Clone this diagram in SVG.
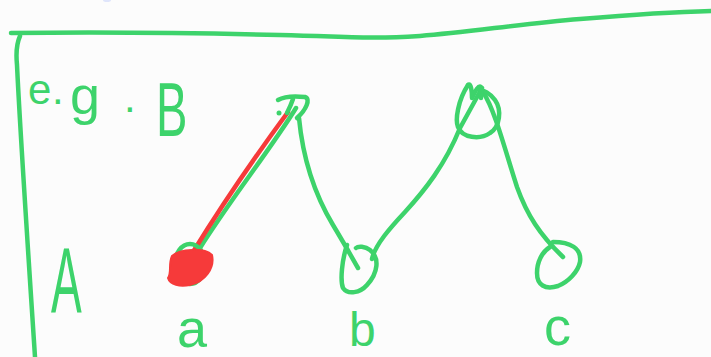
<svg xmlns="http://www.w3.org/2000/svg" width="711" height="357" viewBox="0 0 711 357">
<style>
.g{fill:none;stroke:#3dd36b;stroke-width:4.5;stroke-linecap:round;stroke-linejoin:round}
.r{fill:none;stroke:#f63a3a;stroke-width:4.5;stroke-linecap:round;stroke-linejoin:round}
.t{fill:#3dd36b;font-family:"Liberation Sans",Arial,sans-serif}
</style>
<rect width="711" height="357" fill="#fcfcfc"/>
<ellipse cx="107" cy="0" rx="4" ry="2" fill="#dfe5fb"/>
<g id="frame">
<path class="g" d="M11,33 C100,32 200,33 280,35 S370,39 420,36 C470,32 520,24 580,19 S670,12 711,11"/>
<path class="g" d="M20,36 C16,45 16,55 17,65 C20,130 28,250 35,357"/>
</g>
<g id="labels">
<text class="t" font-size="42"><tspan x="28" y="104">e</tspan><tspan x="52" y="104">.</tspan><tspan x="70" y="114" font-size="54">g</tspan><tspan x="124" y="112">.</tspan></text>
<text class="t" x="0" y="0" font-size="76" transform="translate(156,136) scale(0.62,1)">B</text>
<text class="t" x="0" y="0" font-size="92" transform="translate(51,313) scale(0.5,1)">A</text>
<text class="t" x="177" y="347" font-size="54">a</text>
<text class="t" x="349" y="346" font-size="48">b</text>
<text class="t" x="544" y="345" font-size="54">c</text>
</g>
<g id="connectors">
<path class="g" d="M296,108 C270,150 230,200 200,248"/>
<path class="r" d="M288,112 C260,150 225,200 193,252"/>
<path class="g" d="M299,118 C303,160 315,195 333,225 S352,258 358,268"/>
<path class="g" d="M372,259 C375,245 390,228 405,212 C425,190 445,165 460,128 L482,88"/>
<path class="g" d="M483,92 C495,110 505,150 517,187 C527,215 540,235 563,257"/>
</g>
<g id="node-B">
<path class="g" d="M278,100 C285,96 296,96 305,97 C311,99 306,110 297,118"/>
<path class="g" d="M293,99 C291,105 289,109 287,113"/>
<circle cx="279" cy="113" r="2.5" fill="#3dd36b"/>
</g>
<g id="node-a">
<ellipse class="g" cx="190" cy="264" rx="15" ry="20"/>
<path d="M172,256 C180,248 205,248 212,255 C215,268 205,282 190,285 C180,287 170,285 168,278 C172,272 168,265 172,256 Z" fill="#f63a3a" stroke="#f63a3a" stroke-width="2"/>
</g>
<g id="node-b">
<path class="g" d="M347,245 C342,260 340,280 343,288 C348,295 360,293 367,285 C378,273 380,258 370,250 C365,246 358,246 356,248"/>
</g>
<g id="node-C">
<path class="g" d="M468,85 C458,100 455,120 458,127 C462,138 480,140 490,133 C500,127 502,110 495,100 C490,93 483,90 480,90"/>
<path class="g" d="M468,85 C471,82 472,92 472,98 C475,92 478,85 481,87 L481,98"/>
</g>
<g id="node-c">
<path class="g" d="M553,242 C570,242 582,248 580,262 C578,272 568,282 558,286 C545,290 537,285 537,273 C537,262 542,252 550,247"/>
</g>
</svg>
